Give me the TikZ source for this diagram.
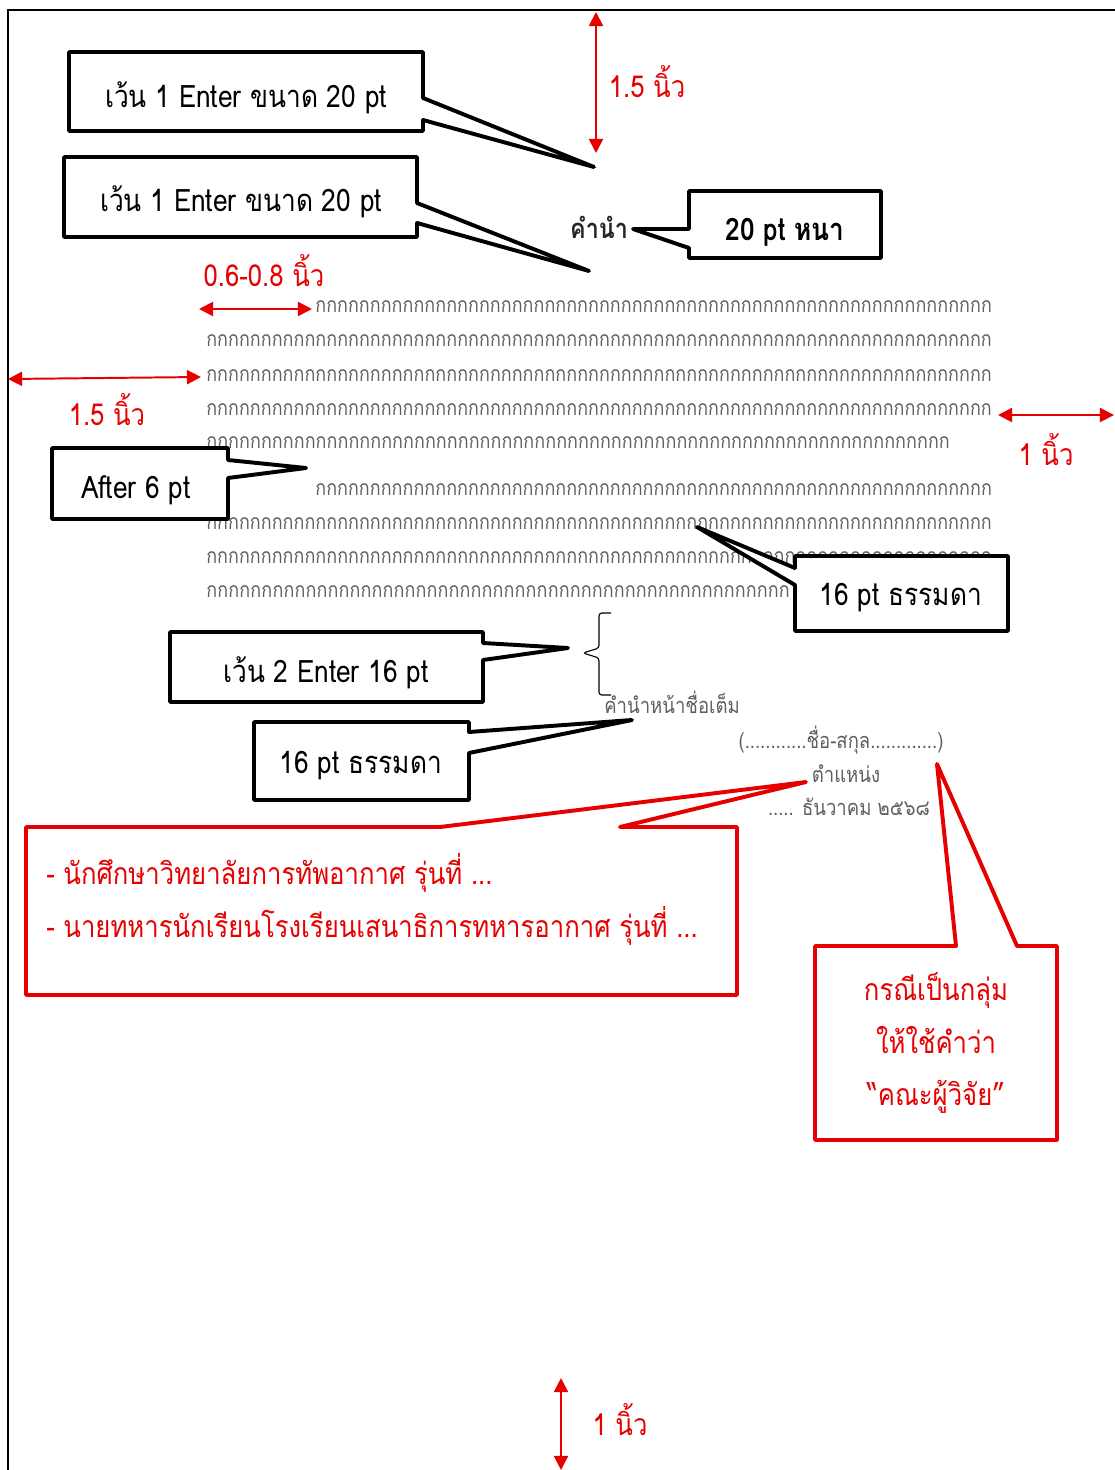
\documentclass[tikz,border=0pt]{standalone}
\usepackage{fontspec}
\setmainfont[Script=Thai,FakeStretch=0.85]{Loma}
\usetikzlibrary{arrows.meta}

\definecolor{markred}{RGB}{230,0,0}
\definecolor{bodygray}{RGB}{95,95,95}

% one row of filler text
\newcommand{\korow}[1]{\hbox to #1{\xleaders\hbox{ก}\hfill}}

\tikzset{
  pageedge/.style={line width=1.4pt},
  bodytext/.style={text=bodygray, font=\fontsize{15}{17}\selectfont, inner sep=0pt, anchor=base west},
  sigtext/.style={text=bodygray, font=\fontsize{15.5}{18}\selectfont, inner sep=0pt, anchor=base},
  callline/.style={draw=black, line width=2.8pt, fill=white, line join=round},
  calltext/.style={font=\fontsize{22}{26}\selectfont, inner sep=0pt, anchor=base},
  redline/.style={draw=markred, line width=2.8pt, fill=white, line join=round},
  redtext/.style={text=markred, font=\fontsize{21.5}{25}\selectfont, inner sep=0pt},
  dimarrow/.style={draw=markred, line width=1.4pt, >={Triangle[length=10pt,width=10pt]}, <->},
  dimtext/.style={text=markred, font=\fontsize{21.5}{25}\selectfont, inner sep=0pt, anchor=base},
  spanbrace/.style={line width=0.8pt, rounded corners=2pt},
}

\begin{document}
\begin{tikzpicture}[x=0.025cm, y=-0.025cm]
    \useasboundingbox (0,0) rectangle (1114,1470);
    % Page edge
    \draw[pageedge] (8,1480) -- (8,10) -- (1120,10);

    % Body, first paragraph
    \node[bodytext] (row1) at (315,313) {\korow{16.925cm}};
    \node[bodytext] (row2) at (206,347) {\korow{19.65cm}};
    \node[bodytext] (row3) at (206,381) {\korow{19.65cm}};
    \node[bodytext] (row4) at (206,415) {\korow{19.65cm}};
    \node[bodytext] (row5) at (206,448) {\korow{18.6cm}};
    % Body, second paragraph
    \node[bodytext] (row6) at (315,495) {\korow{16.925cm}};
    \node[bodytext] (row7) at (206,529) {\korow{19.65cm}};
    \node[bodytext] (row8) at (206,563) {\korow{19.65cm}};
    \node[bodytext] (row9) at (206,597) {\korow{14.6cm}};

    % Title
    \node[font=\fontsize{19.5}{22}\selectfont\bfseries, text=black!85, inner sep=0pt, anchor=base] (title) at (599,239) {คำนำ};

    % Signature block
    \draw[spanbrace] (611,613) -- (599,613) -- (599,648) -- (583,653) -- (599,658) -- (599,695) -- (611,695);
    \node[sigtext] (prefix) at (672,713) {คำนำหน้าชื่อเต็ม};
    \node[sigtext] (fullname) at (841,748) {(............ชื่อ-สกุล.............)};
    \node[sigtext] (position) at (846,782) {ตำแหน่ง};
    \node[sigtext] (date) at (849,815) {..... ธันวาคม ๒๕๖๘};

    % Callouts
    \coordinate (tipA) at (594,167);
    \filldraw[callline] (69,52) -- (423,52) -- (423,98) -- (tipA) -- (423,120) -- (423,131) -- (69,131) -- cycle;
    \node[calltext] (enterA) at (246,108) {เว้น 1 Enter ขนาด 20 pt};

    \coordinate (tipB) at (589,271);
    \filldraw[callline] (64,157) -- (417,157) -- (417,203) -- (tipB) -- (417,223) -- (417,237) -- (64,237) -- cycle;
    \node[calltext] (enterB) at (241,212) {เว้น 1 Enter ขนาด 20 pt};

    \coordinate (tipC) at (633,229);
    \filldraw[callline] (689,191) -- (881,191) -- (881,258) -- (689,258) -- (689,248) -- (tipC) -- (689,229) -- cycle;
    \node[calltext, font=\fontsize{22}{26}\selectfont\bfseries] (boldsize) at (785,241) {20 pt หนา};

    \coordinate (tipD) at (306,468);
    \filldraw[callline] (52,448) -- (228,448) -- (228,460) -- (tipD) -- (228,478) -- (228,519) -- (52,519) -- cycle;
    \node[calltext] (after) at (136,498) {After 6 pt};

    \coordinate (tipE) at (697,527);
    \filldraw[callline] (795,556) -- (1008,556) -- (1008,631) -- (795,631) -- (795,585) -- (tipE) -- (795,568) -- cycle;
    \node[calltext] (bodysize) at (901,605) {16 pt ธรรมดา};

    \coordinate (tipF) at (568,648);
    \filldraw[callline] (170,632) -- (483,632) -- (483,643) -- (tipF) -- (483,660) -- (483,702) -- (170,702) -- cycle;
    \node[calltext] (enterC) at (326,682) {เว้น 2 Enter 16 pt};

    \coordinate (tipG) at (632,720);
    \filldraw[callline] (254,722) -- (469,722) -- (469,732) -- (tipG) -- (469,753) -- (469,800) -- (254,800) -- cycle;
    \node[calltext] (prefixsize) at (361,773) {16 pt ธรรมดา};

    % Red notes
    \coordinate (tipH) at (806,782);
    \filldraw[redline] (26,827) -- (440,827) -- (tipH) -- (620,827) -- (737,827) -- (737,995) -- (26,995) -- cycle;
    \node[redtext, anchor=base west] (cadet) at (46,884) {- นักศึกษาวิทยาลัยการทัพอากาศ รุ่นที่ ...};
    \node[redtext, anchor=base west] (officer) at (46,937) {- นายทหารนักเรียนโรงเรียนเสนาธิการทหารอากาศ รุ่นที่ ...};

    \coordinate (tipK) at (937,764);
    \filldraw[redline] (815,946) -- (956,946) -- (tipK) -- (1017,946) -- (1057,946) -- (1057,1140) -- (815,1140) -- cycle;
    \node[redtext, anchor=base] (groupA) at (936,1000) {กรณีเป็นกลุ่ม};
    \node[redtext, anchor=base] (groupB) at (936,1053) {ให้ใช้คำว่า};
    \node[redtext, anchor=base] (groupC) at (936,1105) {“คณะผู้วิจัย”};

    % Margins
    \coordinate (topA) at (596,12);
    \coordinate (topB) at (596,153);
    \draw[dimarrow] (topA) -- (topB);
    \node[dimtext] (topdim) at (647,98) {1.5 นิ้ว};

    \coordinate (indA) at (199,309);
    \coordinate (indB) at (312,309);
    \draw[dimarrow] (indA) -- (indB);
    \node[dimtext] (inddim) at (264,287) {0.6-0.8 นิ้ว};

    \coordinate (leftA) at (8,379);
    \coordinate (leftB) at (201,377);
    \draw[dimarrow] (leftA) -- (leftB);
    \node[dimtext] (leftdim) at (107,425) {1.5 นิ้ว};

    \coordinate (rightA) at (998,415);
    \coordinate (rightB) at (1114,415);
    \draw[dimarrow] (rightA) -- (rightB);
    \node[dimtext] (rightdim) at (1046,465) {1 นิ้ว};

    \coordinate (botA) at (561,1378);
    \coordinate (botB) at (561,1470);
    \draw[dimarrow] (botA) -- (botB);
    \node[dimtext] (botdim) at (620,1435) {1 นิ้ว};
\end{tikzpicture}
\end{document}
